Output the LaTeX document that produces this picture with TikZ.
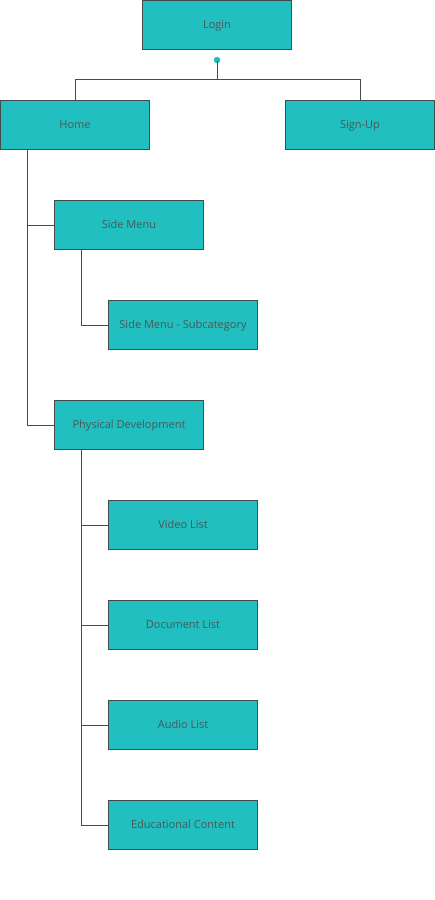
\documentclass[tikz,border=0pt]{standalone}
\usepackage{fontspec}
\setmainfont{Open Sans}
\definecolor{boxfill}{HTML}{21BFBF}
\definecolor{boxline}{HTML}{454B4B}
\definecolor{boxtext}{HTML}{4A5858}
\begin{document}
\begin{tikzpicture}[x=1pt,y=-1pt,
  page/.style={draw=boxline,line width=1pt,fill=boxfill,text=boxtext,
    minimum width=149pt,minimum height=49pt,inner sep=0pt,
    text height=9pt,text depth=1.5pt,font=\fontsize{11}{13}\selectfont},
  link/.style={draw=boxline,line width=1pt},
  knob/.style={circle,fill=boxfill,inner sep=0pt,minimum size=6.5pt}]
\useasboundingbox (0,0) rectangle (435,900);
\node [page] (login) at (217,25) {Login};
\node [page] (home) at (75,125) {Home};
\node [page] (signup) at (360,125) {Sign-Up};
\node [page] (side) at (129,225) {Side Menu};
\node [page] (subcat) at (183,325) {Side Menu - Subcategory};
\node [page] (phys) at (129,425) {Physical Development};
\node [page] (video) at (183,525) {Video List};
\node [page] (doc) at (183,625) {Document List};
\node [page] (audio) at (183,725) {Audio List};
\node [page] (edu) at (183,825) {Educational Content};
\coordinate (split) at (217,79);
\node [knob] (dot) at (217,60) {};
\draw [link] ([yshift=2pt]dot.south) -- (split);
\draw [link] (split) -| (home.north);
\draw [link] (split) -| (signup.north);
\draw [link] ([xshift=-48pt]home.south) |- (side.west);
\draw [link] ([xshift=-48pt]home.south) |- (phys.west);
\draw [link] ([xshift=-48pt]side.south) |- (subcat.west);
\foreach \leaf in {video,doc,audio,edu}
  \draw [link] ([xshift=-48pt]phys.south) |- (\leaf.west);
\end{tikzpicture}
\end{document}
